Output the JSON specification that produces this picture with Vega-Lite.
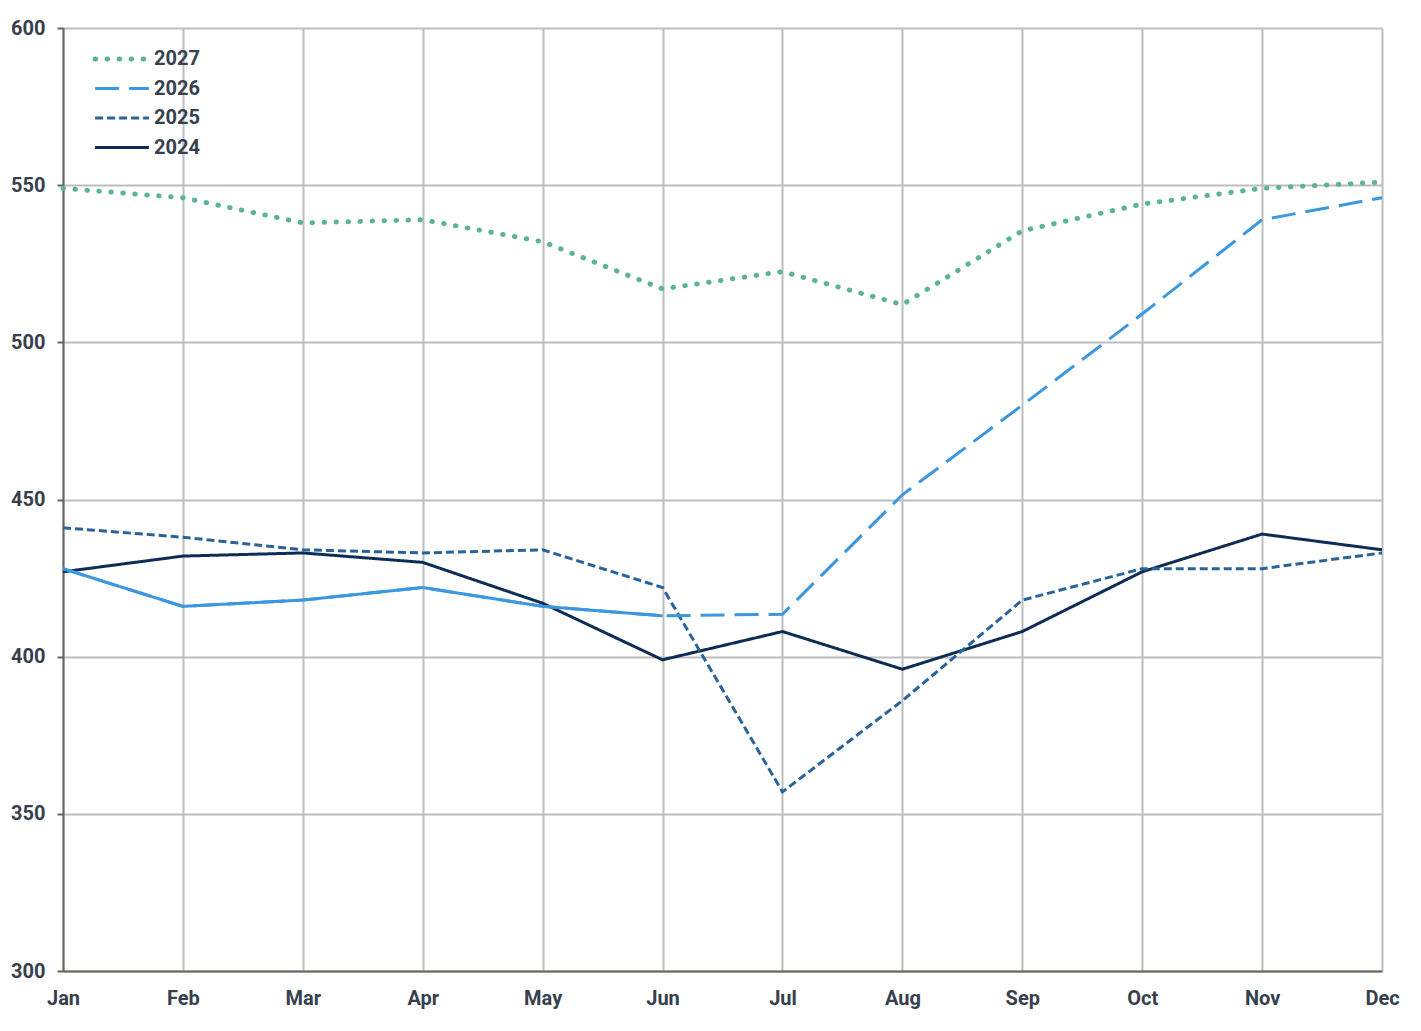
{
  "$schema": "https://vega.github.io/schema/vega-lite/v6.json",
  "autosize": {"type": "none"},
  "padding": {"left": 63, "top": 28, "right": 39, "bottom": 60},
  "width": 1319,
  "height": 943,
  "background": "white",
  "config": {
    "font": "Roboto",
    "view": {"stroke": null},
    "axis": {
      "labelFont": "Roboto",
      "labelFontSize": 20,
      "labelFontWeight": "bold",
      "labelColor": "#37404d",
      "gridColor": "#bdbdbd",
      "gridWidth": 2,
      "domainColor": "#6b625b",
      "domainWidth": 2,
      "tickColor": "#6b625b",
      "tickWidth": 2,
      "title": null
    }
  },
  "data": {
    "values": [
      {"month": "Jan", "year": "2024", "value": 427},
      {"month": "Feb", "year": "2024", "value": 432},
      {"month": "Mar", "year": "2024", "value": 433},
      {"month": "Apr", "year": "2024", "value": 430},
      {"month": "May", "year": "2024", "value": 417},
      {"month": "Jun", "year": "2024", "value": 399},
      {"month": "Jul", "year": "2024", "value": 408},
      {"month": "Aug", "year": "2024", "value": 396},
      {"month": "Sep", "year": "2024", "value": 408},
      {"month": "Oct", "year": "2024", "value": 427},
      {"month": "Nov", "year": "2024", "value": 439},
      {"month": "Dec", "year": "2024", "value": 434},
      {"month": "Jan", "year": "2025", "value": 441},
      {"month": "Feb", "year": "2025", "value": 438},
      {"month": "Mar", "year": "2025", "value": 434},
      {"month": "Apr", "year": "2025", "value": 433},
      {"month": "May", "year": "2025", "value": 434},
      {"month": "Jun", "year": "2025", "value": 422},
      {"month": "Jul", "year": "2025", "value": 357},
      {"month": "Aug", "year": "2025", "value": 386},
      {"month": "Sep", "year": "2025", "value": 418},
      {"month": "Oct", "year": "2025", "value": 428},
      {"month": "Nov", "year": "2025", "value": 428},
      {"month": "Dec", "year": "2025", "value": 433},
      {"month": "Jan", "year": "2026", "value": 428},
      {"month": "Feb", "year": "2026", "value": 416},
      {"month": "Mar", "year": "2026", "value": 418},
      {"month": "Apr", "year": "2026", "value": 422},
      {"month": "May", "year": "2026", "value": 416},
      {"month": "Jun", "year": "2026", "value": 413},
      {"month": "Jul", "year": "2026", "value": 413.5},
      {"month": "Aug", "year": "2026", "value": 451.5},
      {"month": "Sep", "year": "2026", "value": 480},
      {"month": "Oct", "year": "2026", "value": 509},
      {"month": "Nov", "year": "2026", "value": 539},
      {"month": "Dec", "year": "2026", "value": 546},
      {"month": "Jan", "year": "2027", "value": 549},
      {"month": "Feb", "year": "2027", "value": 546},
      {"month": "Mar", "year": "2027", "value": 538},
      {"month": "Apr", "year": "2027", "value": 539},
      {"month": "May", "year": "2027", "value": 532},
      {"month": "Jun", "year": "2027", "value": 517},
      {"month": "Jul", "year": "2027", "value": 522.5},
      {"month": "Aug", "year": "2027", "value": 512},
      {"month": "Sep", "year": "2027", "value": 535.5},
      {"month": "Oct", "year": "2027", "value": 544},
      {"month": "Nov", "year": "2027", "value": 549},
      {"month": "Dec", "year": "2027", "value": 551}
    ]
  },
  "encoding": {
    "x": {
      "field": "month",
      "type": "ordinal",
      "sort": ["Jan", "Feb", "Mar", "Apr", "May", "Jun", "Jul", "Aug", "Sep", "Oct", "Nov", "Dec"],
      "scale": {"type": "point", "padding": 0},
      "axis": {"grid": true, "ticks": false, "labelAngle": 0, "labelPadding": 17, "domain": true}
    },
    "y": {
      "field": "value",
      "type": "quantitative",
      "scale": {"domain": [300, 600], "nice": false, "zero": false},
      "axis": {"values": [300, 350, 400, 450, 500, 550, 600], "tickSize": 6, "labelPadding": 12, "grid": true}
    },
    "color": {
      "field": "year",
      "type": "nominal",
      "scale": {"domain": ["2027", "2026", "2025", "2024"], "range": ["#5cb39b", "#3b98e0", "#2a6399", "#0e2d55"]},
      "legend": {
        "orient": "none",
        "legendX": 30,
        "legendY": 21,
        "title": null,
        "symbolType": "stroke",
        "symbolSize": 400,
        "symbolStrokeWidth": 3,
        "labelFont": "Roboto",
        "labelFontSize": 20,
        "labelFontWeight": "bold",
        "labelColor": "#37404d",
        "labelOffset": 6,
        "rowPadding": 9.5,
        "encode": {
          "symbols": {"update": {
            "size": {"value": 2900},
            "x": {"value": 29},
            "strokeCap": {"signal": "datum.value === '2027' ? 'round' : 'butt'"},
            "strokeWidth": {"signal": "datum.value === '2027' ? 5 : 3"}
          }},
          "labels": {"update": {"x": {"value": 61}}}
        }
      }
    },
    "strokeDash": {
      "field": "year",
      "type": "nominal",
      "scale": {"domain": ["2027", "2026", "2025", "2024"], "range": [[0.5, 11.5], [24, 10], [8, 4], [1, 0]]}
    }
  },
  "layer": [
    {
      "transform": [{"filter": "datum.year !== '2027'"}],
      "mark": {"type": "line", "strokeWidth": 3, "strokeCap": "butt"}
    },
    {
      "transform": [{"filter": "datum.year === '2027'"}],
      "mark": {"type": "line", "strokeWidth": 5, "strokeCap": "round"}
    },
    {
      "transform": [
        {"filter": {"field": "year", "equal": "2026"}},
        {"filter": {"field": "month", "oneOf": ["Jan", "Feb", "Mar", "Apr", "May", "Jun"]}}
      ],
      "mark": {"type": "line", "strokeWidth": 3},
      "encoding": {"strokeDash": {"value": [1, 0]}, "color": {"value": "#3b98e0"}}
    }
  ]
}
